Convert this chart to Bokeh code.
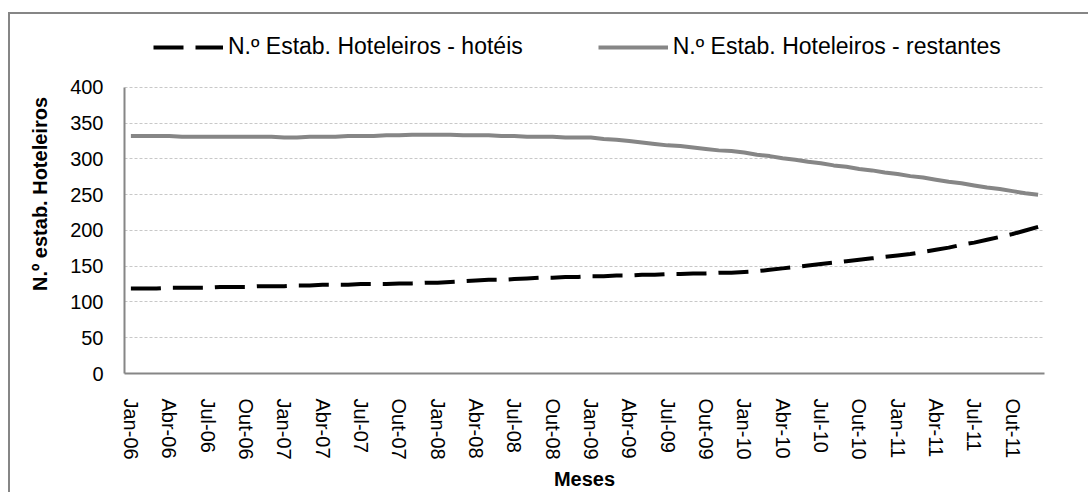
from bokeh.plotting import figure
from bokeh.models import Range1d, FixedTicker, Legend, LegendItem
from bokeh.embed import file_html
from bokeh.resources import INLINE

# ---- data (monthly, Jan-06 .. Dez-11) ----
hoteis = [
    119, 119, 119, 120, 120, 120, 120, 121, 121, 121, 122, 122,   # 2006
    122, 123, 123, 124, 124, 124, 125, 125, 125, 126, 126, 127,   # 2007
    127, 128, 129, 130, 131, 131, 132, 133, 134, 134, 135, 135,   # 2008
    136, 136, 137, 137, 138, 138, 139, 139, 140, 140, 141, 141,   # 2009
    142, 143, 145, 147, 149, 151, 153, 155, 157, 159, 161, 163,   # 2010
    165, 167, 170, 173, 176, 180, 183, 187, 191, 195, 200, 205,   # 2011
]
restantes = [
    332, 332, 332, 332, 331, 331, 331, 331, 331, 331, 331, 331,   # 2006
    330, 330, 331, 331, 331, 332, 332, 332, 333, 333, 334, 334,   # 2007
    334, 334, 333, 333, 333, 332, 332, 331, 331, 331, 330, 330,   # 2008
    330, 328, 327, 325, 323, 321, 319, 318, 316, 314, 312, 311,   # 2009
    309, 306, 304, 301, 299, 296, 294, 291, 289, 286, 284, 281,   # 2010
    279, 276, 274, 271, 268, 266, 263, 260, 258, 255, 252, 250,   # 2011
]
tick_labels = [
    "Jan-06", "Abr-06", "Jul-06", "Out-06",
    "Jan-07", "Abr-07", "Jul-07", "Out-07",
    "Jan-08", "Abr-08", "Jul-08", "Out-08",
    "Jan-09", "Abr-09", "Jul-09", "Out-09",
    "Jan-10", "Abr-10", "Jul-10", "Out-10",
    "Jan-11", "Abr-11", "Jul-11", "Out-11",
]
y_ticks = [0, 50, 100, 150, 200, 250, 300, 350, 400]
series_names = ["N.º Estab. Hoteleiros - hotéis", "N.º Estab. Hoteleiros - restantes"]

x = list(range(len(hoteis)))
tick_pos = [3 * i for i in range(len(tick_labels))]

FONT = "Liberation Sans"
GRAY = "#868686"

# frame spans from the canvas top; values above 400 are the legend strip
p = figure(width=1080, height=480, output_backend="svg", toolbar_location=None,
           x_range=Range1d(-0.5, len(hoteis) - 0.5), y_range=Range1d(0, 502),
           min_border_left=114, min_border_right=46, min_border_top=0, min_border_bottom=121)
p.styles = {"margin-left": "8px", "margin-top": "12px",
            "border-top": "2px solid #868686", "border-left": "2px solid #868686"}
p.outline_line_color = None
p.background_fill_color = "white"
p.border_fill_color = "white"

r1 = p.line(x, hoteis, line_color="black", line_width=4, line_dash="30 12")
r2 = p.line(x, restantes, line_color=GRAY, line_width=4)

# axes
p.xaxis.ticker = FixedTicker(ticks=tick_pos)
p.xaxis.major_label_overrides = {pos: lab for pos, lab in zip(tick_pos, tick_labels)}
p.xaxis.major_label_orientation = "vertical"
p.yaxis.ticker = FixedTicker(ticks=y_ticks)
p.yaxis.bounds = (0, 400)
for ax in (p.xaxis[0], p.yaxis[0]):
    ax.axis_line_color = GRAY
    ax.axis_line_width = 2
    ax.major_tick_line_color = None
    ax.minor_tick_line_color = None
    ax.major_label_text_font = FONT
    ax.major_label_text_font_size = "20px"
    ax.major_label_text_color = "black"
    ax.axis_label_text_font = FONT
    ax.axis_label_text_font_size = "20px"
    ax.axis_label_text_font_style = "bold"
    ax.axis_label_text_color = "black"
p.xaxis.major_label_standoff = 19
p.yaxis.major_label_standoff = 15
p.xaxis.axis_label = "Meses"
p.yaxis.axis_label = "N.º estab. Hoteleiros"
p.xaxis.axis_label_standoff = 5
p.yaxis.axis_label_standoff = 16

p.xgrid.grid_line_color = None
p.ygrid.ticker = FixedTicker(ticks=y_ticks)
p.ygrid.grid_line_color = "#c8c8c8"
p.ygrid.grid_line_dash = "3 2"
p.ygrid.grid_line_width = 1

legend = Legend(items=[LegendItem(label=series_names[0], renderers=[r1]),
                       LegendItem(label=series_names[1], renderers=[r2])],
                orientation="horizontal", location=(29, 313),
                padding=0, margin=0, spacing=75,
                glyph_width=70, glyph_height=24, label_height=24, label_standoff=5,
                label_text_font=FONT, label_text_font_size="23px", label_text_color="black",
                border_line_color=None, background_fill_alpha=0)
p.add_layout(legend, "center")

open("out.html", "w").write(file_html(p, INLINE))
